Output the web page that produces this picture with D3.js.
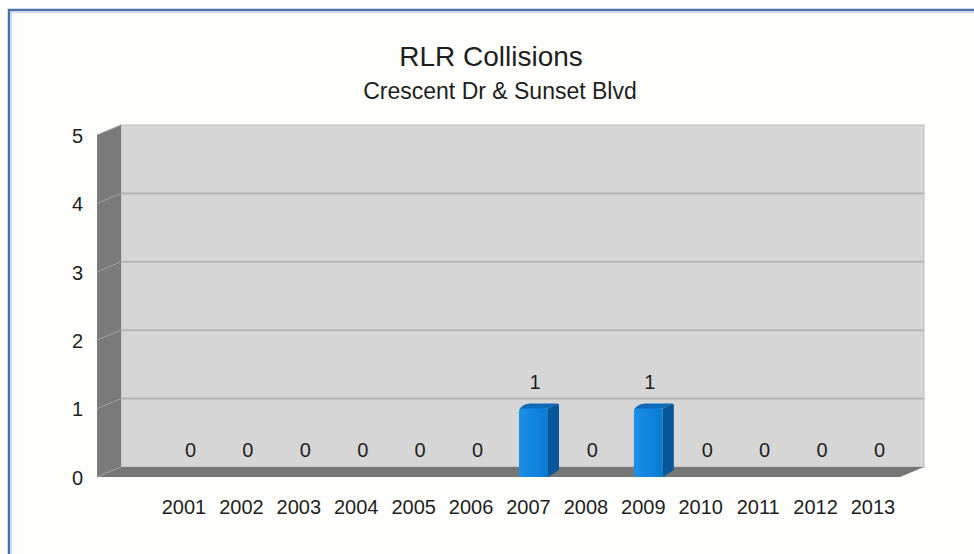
<!DOCTYPE html>
<html>
<head>
<meta charset="utf-8">
<script src="https://cdn.jsdelivr.net/npm/d3@7"></script>
<style>
  html, body { margin: 0; padding: 0; background: #ffffff; }
  svg { display: block; }
  text { font-family: "Liberation Sans", Arial, sans-serif; fill: #1e1e1e; }
</style>
</head>
<body>
<svg id="chart" width="974" height="554"></svg>
<script>
// Red-light-running collisions per year at one intersection
const years = ["2001", "2002", "2003", "2004", "2005", "2006", "2007",
               "2008", "2009", "2010", "2011", "2012", "2013"];
const collisions = [0, 0, 0, 0, 0, 0, 1, 0, 1, 0, 0, 0, 0];
const yTicks = [0, 1, 2, 3, 4, 5];
const titleText = "RLR Collisions";
const subtitleText = "Crescent Dr & Sunset Blvd";

const svg = d3.select("#chart");

// Outer frame
svg.append("rect").attr("x", 9).attr("y", 10).attr("width", 980).attr("height", 560)
  .attr("fill", "#fefefc").attr("stroke", "#4f6da6").attr("stroke-width", 2.5);
svg.append("rect").attr("x", 11.5).attr("y", 12.5).attr("width", 980).attr("height", 560)
  .attr("fill", "none").attr("stroke", "#c9d6ec").attr("stroke-width", 1);

// Scales (front plane of the 3D box)
const y = d3.scaleLinear().domain([0, 5]).range([477, 135]);
const x = d3.scalePoint().domain(years).range([189, 878]);
const xLabel = d3.scalePoint().domain(years).range([183.5, 872.5]);

const wall = { dx: 24, dy: -10 };      // depth of walls / floor
const bar = { w: 29, dx: 11, dy: -5 }; // bar footprint
const leftX = 97, rightX = 900;

// Back wall
const g = svg.append("g");
g.append("rect")
  .attr("x", leftX + wall.dx).attr("y", y(5) + wall.dy)
  .attr("width", rightX - leftX).attr("height", y(0) - y(5))
  .attr("fill", "#d6d6d6").attr("stroke", "#bdbdbd").attr("stroke-width", 1);

// Horizontal gridlines on the back wall
g.selectAll("line.grid").data(yTicks.filter(d => d > 0 && d < 5)).join("line")
  .attr("class", "grid")
  .attr("x1", leftX + wall.dx).attr("x2", rightX + wall.dx)
  .attr("y1", d => y(d) + wall.dy).attr("y2", d => y(d) + wall.dy)
  .attr("stroke", "#b4b4b4").attr("stroke-width", 2);

// Left side wall
g.append("polygon")
  .attr("points", [
    [leftX, y(5)], [leftX + wall.dx, y(5) + wall.dy],
    [leftX + wall.dx, y(0) + wall.dy], [leftX, y(0)]
  ].map(p => p.join(",")).join(" "))
  .attr("fill", "#7a7a7a");

// Gridline continuations on the side wall
g.selectAll("line.sidegrid").data(yTicks).join("line")
  .attr("class", "sidegrid")
  .attr("x1", leftX).attr("x2", leftX + wall.dx)
  .attr("y1", d => y(d)).attr("y2", d => y(d) + wall.dy)
  .attr("stroke", "#a2a2a2").attr("stroke-width", 1);

// Floor
g.append("polygon")
  .attr("points", [
    [leftX, y(0)], [leftX + wall.dx, y(0) + wall.dy],
    [rightX + wall.dx, y(0) + wall.dy], [rightX, y(0)]
  ].map(p => p.join(",")).join(" "))
  .attr("fill", "#767676");
g.append("line")
  .attr("x1", leftX).attr("x2", leftX + wall.dx)
  .attr("y1", y(0)).attr("y2", y(0) + wall.dy)
  .attr("stroke", "#9a9a9a").attr("stroke-width", 1);

// Bars (front face, side, top)
const defs = svg.append("defs");
const grad = defs.append("linearGradient").attr("id", "barFront")
  .attr("x1", "0").attr("x2", "1").attr("y1", "0").attr("y2", "0");
grad.append("stop").attr("offset", "0").attr("stop-color", "#1c8fe6");
grad.append("stop").attr("offset", "0.5").attr("stop-color", "#1186e0");
grad.append("stop").attr("offset", "1").attr("stop-color", "#0b79cf");

const bars = g.selectAll("g.bar")
  .data(years.map((yr, i) => ({ yr, v: collisions[i] })).filter(d => d.v > 0))
  .join("g").attr("class", "bar");

bars.append("path") // side
  .attr("d", d => {
    const x1 = x(d.yr) + bar.w / 2, t = y(d.v), b = y(0);
    return `M${x1},${t} L${x1 + bar.dx - 2},${t + bar.dy} Q${x1 + bar.dx},${t + bar.dy} ${x1 + bar.dx},${t + bar.dy + 2}
            L${x1 + bar.dx},${b + bar.dy - 2} L${x1},${b} Z`;
  })
  .attr("fill", "#07579a");
bars.append("path") // top
  .attr("d", d => {
    const x0 = x(d.yr) - bar.w / 2, x1 = x(d.yr) + bar.w / 2, t = y(d.v);
    return `M${x0},${t + 2} Q${x0 + 2},${t + bar.dy + 1} ${x0 + bar.dx},${t + bar.dy}
            L${x1 + bar.dx - 2},${t + bar.dy} L${x1},${t} Z`;
  })
  .attr("fill", "#0d6ab6");
bars.append("path") // front
  .attr("d", d => {
    const x0 = x(d.yr) - bar.w / 2, x1 = x(d.yr) + bar.w / 2, t = y(d.v), b = y(0);
    return `M${x0},${t + 4} Q${x0},${t} ${x0 + 4},${t} L${x1},${t} L${x1},${b - 1}
            Q${x1},${b} ${x1 - 3},${b} L${x0 + 3},${b} Q${x0},${b} ${x0},${b - 3} Z`;
  })
  .attr("fill", "url(#barFront)");

// Value labels
g.selectAll("text.value")
  .data(years.map((yr, i) => ({ yr, v: collisions[i] })))
  .join("text").attr("class", "value")
  .attr("x", d => x(d.yr) + 1.5)
  .attr("y", d => y(d.v) - 20)
  .attr("text-anchor", "middle")
  .attr("font-size", 20)
  .text(d => d.v);

// Y axis labels
const yAxis = svg.append("g").attr("transform", "translate(83,0)")
  .call(d3.axisLeft(y).tickValues(yTicks).tickSize(0).tickPadding(0).tickFormat(d3.format("d")));
yAxis.select(".domain").remove();
yAxis.selectAll("text")
  .attr("font-size", 20).attr("font-family", "Liberation Sans, Arial, sans-serif")
  .attr("fill", "#1e1e1e").attr("dy", "0.36em");

// X axis labels
const xAxis = svg.append("g").attr("transform", "translate(0,514)")
  .call(d3.axisBottom(xLabel).tickSize(0).tickPadding(0));
xAxis.select(".domain").remove();
xAxis.selectAll("text")
  .attr("font-size", 20).attr("font-family", "Liberation Sans, Arial, sans-serif")
  .attr("fill", "#1e1e1e").attr("y", 0).attr("dy", null);

// Titles
svg.append("text").attr("x", 491).attr("y", 66).attr("text-anchor", "middle")
  .attr("font-size", 28).text(titleText);
svg.append("text").attr("x", 500).attr("y", 99).attr("text-anchor", "middle")
  .attr("font-size", 23).text(subtitleText);
</script>
</body>
</html>
